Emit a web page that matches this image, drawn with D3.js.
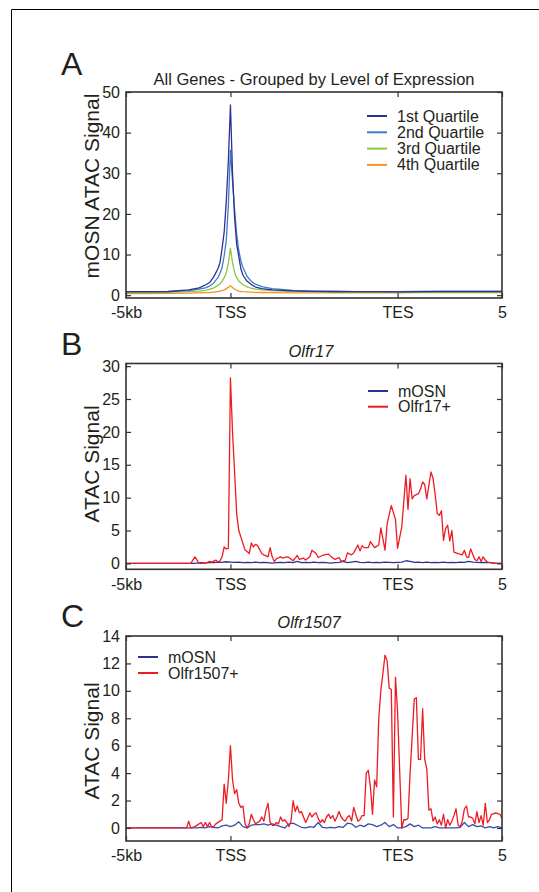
<!DOCTYPE html>
<html><head><meta charset="utf-8">
<script src="https://cdn.jsdelivr.net/npm/d3@7"></script>
<style>
body{margin:0;background:#fff}
svg{display:block}
text{font-family:Arial,"Liberation Sans",Helvetica,sans-serif;fill:#231f20}
</style>
</head><body>
<svg id="c" width="539" height="892"></svg>
<script>
// ---------- shared x axis ----------
const xTickPos = [0, 50, 130, 180];
const xTickLabels = ["-5kb", "TSS", "TES", "5"];

// ---------- Panel A ----------
const titleA = "All Genes - Grouped by Level of Expression";
const yLabelA = "mOSN ATAC Signal";
const yTicksA = [0, 10, 20, 30, 40, 50];
const seriesNamesA = ["1st Quartile", "2nd Quartile", "3rd Quartile", "4th Quartile"];
const posA = [0,10,20,30,35,38,40,42,44,45,46,47,48,49,50,51,52,53,54,55,56,58,60,62,65,70,80,90,100,110,120,130,140,150,160,170,180];
const q1 = [0.85,0.85,0.9,1.3,1.8,2.5,3.1,4.5,6.5,8,11.5,15.5,23,33,46.8,30,19,12.5,9.5,6.5,4.9,3.4,2.6,2.0,1.6,1.3,1.05,0.95,0.9,0.85,0.85,0.8,0.85,0.9,0.9,0.9,0.9];
const q2 = [0.8,0.8,0.85,1.1,1.5,1.8,2.2,3.0,4.3,5.4,6.8,9.7,13.5,22,35.7,28,21,15,11,8.5,6.8,4.6,3.4,2.7,2.1,1.6,1.2,1.0,0.9,0.85,0.85,0.85,0.9,0.95,0.95,0.95,0.95];
const q3 = [0.65,0.65,0.7,0.85,1.0,1.2,1.4,1.8,2.4,2.8,3.4,4.3,5.5,7.8,11.5,8,5.6,4.3,3.5,3.0,2.6,2.0,1.7,1.5,1.3,1.1,0.9,0.8,0.75,0.7,0.7,0.7,0.7,0.7,0.7,0.7,0.7];
const q4 = [0.4,0.4,0.45,0.5,0.55,0.6,0.65,0.75,0.9,1.0,1.1,1.3,1.6,1.9,2.3,1.9,1.5,1.2,1.0,0.9,0.85,0.8,0.75,0.7,0.65,0.6,0.55,0.55,0.55,0.55,0.55,0.55,0.6,0.6,0.6,0.6,0.6];
const colorsA = ["#2e3192", "#3d7fc6", "#8dc63f", "#f7941d"];

// ---------- Panel B ----------
const titleB = "Olfr17";
const yLabelB = "ATAC Signal";
const yTicksB = [0, 5, 10, 15, 20, 25, 30];
const seriesNamesB = ["mOSN", "Olfr17+"];
const posBred = [0,31,33,35,38,40,41,43,44,45,46,47,48,49,50,51,53,54,55,57,58,59,60,61,62,63,65,66,68,69,70,71,72,74,75,77,78,80,81,82,83,85,86,88,89,91,92,94,95,97,98,100,102,103,105,106,108,109,111,112,113,114,116,117,119,121,122,124,125,127,129,130,132,134,135,136,137,138,140,141,142,143,144,146,147,148,149,150,151,152,153,154,155,156,157,159,161,162,163,164,165,167,168,169,170,171,172,173,175,177,180];
const redB = [0,0,1.0,0,0,0.3,0.2,0.5,0.2,0.4,1.0,2.5,2.2,2.3,28.2,20,7.5,5,4,2,1.8,1.5,3.1,2.5,2.9,2.7,1.5,1.3,1.0,2.4,1.0,0.3,0.7,1.0,0.8,1.0,0.9,0.4,0.8,1.2,0.6,0.8,0.5,1.0,2.0,1.5,0.9,1.2,1.3,1.4,1.1,0.6,0.9,0.3,0.5,1.6,1.3,1.6,2.8,1.9,2.7,2.4,2.4,3.3,2.4,2.8,5.4,2.0,6.0,8.8,6.7,2.3,5.5,13.4,8.2,12.9,9.8,10.3,10.6,11.3,12.4,12.0,9.8,13.9,12.9,10.5,7.6,7.3,8.0,3.5,5.3,5.8,3.4,5.0,1.7,1.5,1.3,2.0,1.0,0.9,2.2,0.6,0.4,1.0,0.3,1.0,0.5,0.2,0.1,0,0];
const posGrid = [0,32,34,36,38,40,42,44,46,48,50,52,54,56,58,60,62,64,66,68,70,72,74,76,78,80,82,84,86,88,90,92,94,96,98,100,102,104,106,108,110,112,114,116,118,120,122,124,126,128,130,132,134,136,138,140,142,144,146,148,150,152,154,156,158,160,162,164,166,168,170,172,174,176,178,180];
const blueB = [0,0,0.05,0.1,0.05,0.15,0.1,0.2,0.15,0.25,0.2,0.15,0.2,0.1,0.15,0.1,0.2,0.1,0.15,0.1,0.05,0.1,0.15,0.1,0.2,0.1,0.3,0.1,0.15,0.1,0.2,0.1,0.15,0.1,0.05,0.1,0.15,0.3,0.1,0.2,0.3,0.15,0.1,0.2,0.1,0.15,0.1,0.2,0.15,0.1,0.15,0.2,0.4,0.3,0.15,0.2,0.1,0.2,0.1,0.15,0.1,0.2,0.1,0.15,0.1,0.2,0.15,0.3,0.2,0.15,0.1,0.15,0.1,0.05,0,0];

// ---------- Panel C ----------
const titleC = "Olfr1507";
const yLabelC = "ATAC Signal";
const yTicksC = [0, 2, 4, 6, 8, 10, 12, 14];
const seriesNamesC = ["mOSN", "Olfr1507+"];
const posCred = [0,29,30,31,33,35,36,37,38,39,40,41,42,43,45,46,47,48,49,50,51,52,53,54,55,56,57,58,59,60,61,62,63,64,65,66,67,68,69,70,71,72,73,74,75,76,77,78,79,80,81,82,83,84,85,86,87,88,89,90,91,92,93,94,95,96,97,98,99,100,101,102,103,104,105,106,107,108,109,110,111,112,113,114,115,116,117,118,119,120,121,122,124,125,126,127,128,129,130,132,133,134,135,136,138,139,140,141,142,143,144,145,146,147,148,149,150,151,152,153,154,155,156,157,158,159,160,161,162,163,164,165,166,167,168,169,170,171,172,173,174,175,177,179,180];
const redC = [0,0,0.5,0,0.1,0.3,0.4,0.1,0.4,0.1,0.4,0.1,0.1,0.3,0.5,0.6,3.2,1.8,3.5,6.0,3.5,2.5,2.8,1.8,1.5,1.6,0.3,0.0,0.3,1.0,0.6,0.3,0.4,0.5,0.8,0.5,1.3,1.8,0.4,0.2,0.2,0.4,0.3,0.8,0.5,0.6,0.4,0.1,0.5,2.0,1.2,1.6,1.1,1.2,0.8,0.4,0.7,1.1,0.8,1.0,1.1,0.7,0.4,0.6,0.4,0.8,1.0,0.7,0.9,0.5,0.8,1.2,0.8,0.6,0.5,0.8,0.9,0.5,1.5,1.0,0.5,0.6,0.9,0.9,4.0,4.2,3.0,1.0,3.5,3.0,8.0,10.0,12.6,12.2,10.2,10.1,0.8,11.0,8.5,0.0,0.6,0.6,0.7,4.0,9.4,9.5,5.0,5.0,8.7,5.0,4.3,1.3,1.4,0.5,0.8,0.3,0.6,0.2,1.0,0.0,0.6,0.2,0.5,0.9,1.4,0.2,0.1,0.5,1.4,1.6,0.8,0.8,0.7,0.3,1.2,0.4,0.9,0.2,1.8,0.4,0.6,1.0,1.1,1.0,0.7];
const blueC = [0,0,0,0.05,0,0.1,0.05,0,0.15,0.2,0.1,0.2,0.45,0.1,0,0.2,0.25,0.25,0.3,0.2,0.3,0.2,0.1,0,0.3,0.35,0.2,0.05,0,0.1,0.05,0.4,0.05,0,0.05,0,0.1,0.05,0.35,0.3,0.05,0.2,0.1,0.3,0.25,0.1,0.2,0.4,0.1,0.25,0,0,0.1,0.3,0.1,0.2,0,0,0,0.1,0,0,0,0,0,0.05,0.4,0.1,0.25,0.1,0.15,0,0.1,0,0.1,0];
const colorRed = "#ed1c24";
const colorNavy = "#2e3192";
const colorBlueC = "#3b4ba8";

// ---------- drawing ----------
const svg = d3.select("#c");
// outer frame (extends past right/bottom edges)
svg.append("path").attr("d", "M11.5,900 V9.5 H560").attr("fill", "none").attr("stroke", "#000").attr("stroke-width", 1);

const L = 126, R = 502;
const x = d3.scaleLinear().domain([0, 180]).range([L, R]);

function panel(cfg) {
  const y = d3.scaleLinear().domain(cfg.yDomain).range([cfg.bottom, cfg.top]);
  const g = svg.append("g");
  const axColor = "#333";

  const line = d3.line().x(d => x(d[0])).y(d => y(d[1]));
  cfg.series.forEach(s => {
    const data = s.pos.map((p, i) => [p, s.vals[i]]);
    g.append("path").datum(data).attr("d", line).attr("fill", "none")
      .attr("stroke", s.color).attr("stroke-width", 1.3).attr("stroke-linejoin", "round");
  });

  const yl = g.append("g").attr("transform", `translate(${L},0)`)
    .call(d3.axisLeft(y).tickValues(cfg.yTicks).tickSizeInner(-5).tickSizeOuter(0).tickPadding(6));
  const yr = g.append("g").attr("transform", `translate(${R},0)`)
    .call(d3.axisRight(y).tickValues(cfg.yTicks).tickSizeInner(-5).tickSizeOuter(0).tickFormat(""));
  const xb = g.append("g").attr("transform", `translate(0,${cfg.bottom})`)
    .call(d3.axisBottom(x).tickValues(xTickPos).tickSizeInner(-5).tickSizeOuter(0).tickPadding(6)
      .tickFormat((d, i) => xTickLabels[i]));
  const xt = g.append("g").attr("transform", `translate(0,${cfg.top})`)
    .call(d3.axisTop(x).tickValues(xTickPos).tickSizeInner(-5).tickSizeOuter(0).tickFormat(""));
  [yl, yr, xb, xt].forEach(a => {
    a.select(".domain").remove();
    a.selectAll("line").attr("stroke", axColor).attr("stroke-width", 1.2);
    a.selectAll("text").attr("font-size", 16).attr("fill", "#231f20")
      .style("font-family", "Arial, 'Liberation Sans', sans-serif");
  });
  xb.selectAll("text").attr("dy", "0.9em");

  g.append("rect").attr("x", L).attr("y", cfg.top).attr("width", R - L).attr("height", cfg.bottom - cfg.top)
    .attr("fill", "none").attr("stroke", axColor).attr("stroke-width", 1.6);

  g.append("text").attr("x", cfg.titleX).attr("y", cfg.titleY).attr("text-anchor", "middle")
    .attr("font-size", 16.5).attr("font-style", cfg.italic ? "italic" : "normal").text(cfg.title);

  g.append("text").attr("x", 61).attr("y", cfg.letterY).attr("font-size", 32).text(cfg.letter);

  g.append("text").attr("transform", `translate(99,${cfg.yLabelY}) rotate(-90)`)
    .attr("text-anchor", "middle").attr("font-size", 21).text(cfg.yLabel);

  cfg.legend.items.forEach((it, i) => {
    const yy = cfg.legend.y + i * cfg.legend.dy;
    g.append("line").attr("x1", cfg.legend.x).attr("x2", cfg.legend.x + 20)
      .attr("y1", yy).attr("y2", yy).attr("stroke", it.color).attr("stroke-width", 2);
    g.append("text").attr("x", cfg.legend.x + 30).attr("y", yy + 5.5).attr("font-size", 16).text(it.name);
  });
}

panel({
  top: 92, bottom: 298, yDomain: [-0.7, 50], yTicks: yTicksA,
  title: titleA, titleX: 314, titleY: 85, italic: false, letter: "A", letterY: 75,
  yLabel: yLabelA, yLabelY: 186,
  series: [
    {pos: posA, vals: q4, color: colorsA[3]},
    {pos: posA, vals: q3, color: colorsA[2]},
    {pos: posA, vals: q2, color: colorsA[1]},
    {pos: posA, vals: q1, color: colorsA[0]}
  ],
  legend: {x: 367, y: 116, dy: 16.3, items: seriesNamesA.map((n, i) => ({name: n, color: colorsA[i]}))}
});

panel({
  top: 363.5, bottom: 569.3, yDomain: [-0.9, 30.4], yTicks: yTicksB,
  title: titleB, titleX: 311, titleY: 357, italic: true, letter: "B", letterY: 355,
  yLabel: yLabelB, yLabelY: 464,
  series: [
    {pos: posGrid, vals: blueB, color: colorNavy},
    {pos: posBred, vals: redB, color: colorRed}
  ],
  legend: {x: 368, y: 391, dy: 15.7, items: [{name: seriesNamesB[0], color: colorNavy}, {name: seriesNamesB[1], color: colorRed}]}
});

panel({
  top: 636, bottom: 841, yDomain: [-0.95, 14], yTicks: yTicksC,
  title: titleC, titleX: 309, titleY: 628, italic: true, letter: "C", letterY: 627,
  yLabel: yLabelC, yLabelY: 741,
  series: [
    {pos: posGrid, vals: blueC, color: colorBlueC},
    {pos: posCred, vals: redC, color: colorRed}
  ],
  legend: {x: 138, y: 657, dy: 16, items: [{name: seriesNamesC[0], color: colorNavy}, {name: seriesNamesC[1], color: colorRed}]}
});
</script>
</body></html>
